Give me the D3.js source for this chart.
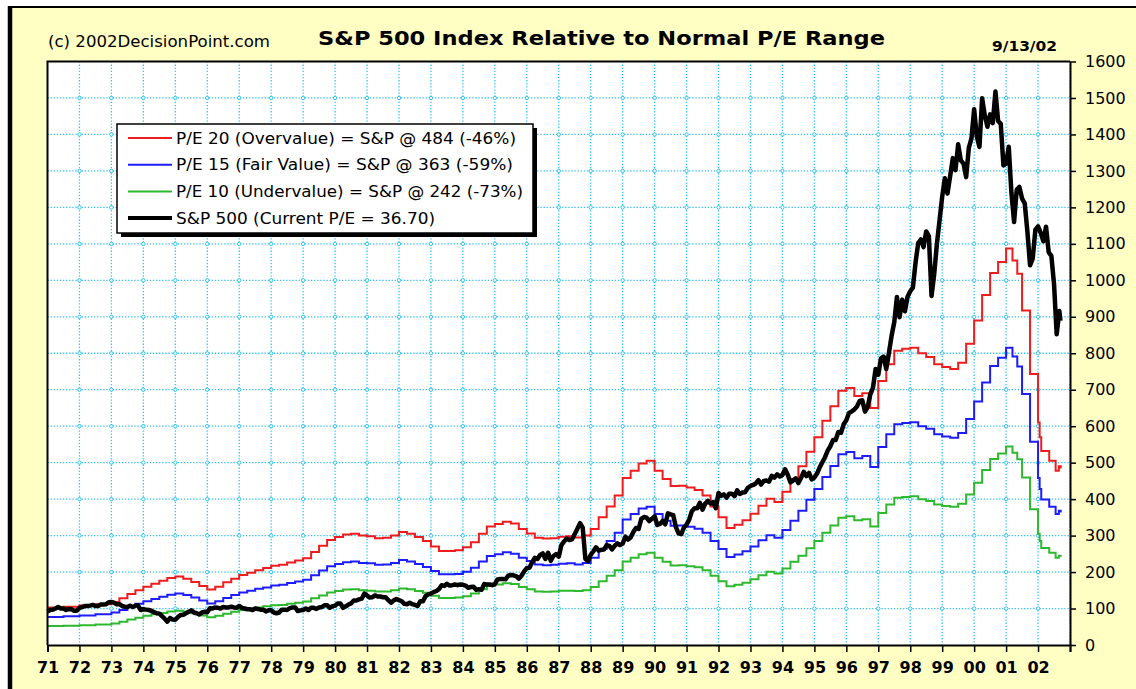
<!DOCTYPE html>
<html>
<head>
<meta charset="utf-8">
<script src="https://cdn.jsdelivr.net/npm/d3@7"></script>
<style>
  html, body { margin: 0; padding: 0; background: #fff; }
  svg { display: block; }
  text { font-family: "DejaVu Sans", Verdana, sans-serif; }
</style>
</head>
<body>
<svg id="chart" width="1136" height="689"></svg>
<script>
// ---- data ----
// P/E band dates (decimal years) - lines are stepped
const peDates = [
    1971.0, 1971.5, 1972.0, 1972.5, 1973.0, 1973.25, 1973.5, 1973.75,
    1974.0, 1974.25, 1974.5, 1974.75, 1975.0, 1975.25, 1975.5, 1975.75,
    1976.0, 1976.25, 1976.5, 1976.75, 1977.0, 1977.25, 1977.5, 1977.75,
    1978.0, 1978.25, 1978.5, 1978.75, 1979.0, 1979.25, 1979.5, 1979.75,
    1980.0, 1980.25, 1980.5, 1980.75, 1981.0, 1981.25, 1981.5, 1981.75,
    1982.0, 1982.25, 1982.5, 1982.75, 1983.0, 1983.25, 1983.5, 1983.75,
    1984.0, 1984.25, 1984.5, 1984.75, 1985.0, 1985.25, 1985.5, 1985.75,
    1986.0, 1986.25, 1986.5, 1986.75, 1987.0, 1987.25, 1987.5, 1987.75,
    1988.0, 1988.25, 1988.5, 1988.75, 1989.0, 1989.25, 1989.5, 1989.75,
    1990.0, 1990.25, 1990.5, 1990.75, 1991.0, 1991.25, 1991.5, 1991.75,
    1992.0, 1992.25, 1992.5, 1992.75, 1993.0, 1993.25, 1993.5, 1993.75,
    1994.0, 1994.25, 1994.5, 1994.75, 1995.0, 1995.25, 1995.5, 1995.75,
    1996.0, 1996.25, 1996.5, 1996.75, 1997.0, 1997.25, 1997.5, 1997.75,
    1998.0, 1998.25, 1998.5, 1998.75, 1999.0, 1999.25, 1999.5, 1999.75,
    2000.0, 2000.25, 2000.5, 2000.75, 2001.0, 2001.2, 2001.35, 2001.5,
    2001.75, 2002.0, 2002.05, 2002.1, 2002.35, 2002.55, 2002.65, 2002.71
];
const pe20 = [
    103, 105, 108, 112, 118, 128, 140, 150, 160, 168, 176, 184, 188, 182, 173, 162,
    152, 160, 172, 182, 192, 198, 205, 211, 217, 220, 226, 232, 238, 255, 272, 288,
    296, 303, 305, 300, 298, 293, 294, 300, 310, 305, 296, 285, 270, 258, 258, 260,
    268, 282, 305, 325, 332, 338, 333, 318, 306, 294, 292, 293, 297, 298, 295, 300,
    318, 350, 380, 410, 458, 478, 498, 505, 478, 455, 436, 437, 432, 425, 410, 380,
    350, 321, 330, 342, 360, 382, 401, 392, 420, 455, 490, 530, 570, 615, 655, 697,
    705, 683, 690, 650, 724, 770, 807, 812, 815, 800, 790, 770, 762, 757, 774, 826,
    890, 960, 1020, 1050, 1087, 1054, 1018, 917, 743, 610, 570, 532, 505, 478, 490, 484
];
const pe15 = [
    77, 79, 81, 84, 89, 96, 105, 113, 120, 126, 132, 138, 141, 137, 130, 122,
    114, 120, 129, 137, 144, 149, 154, 158, 163, 165, 170, 174, 179, 191, 204, 216,
    222, 227, 229, 225, 224, 220, 221, 225, 233, 229, 222, 214, 203, 194, 194, 195,
    201, 212, 229, 244, 249, 254, 250, 239, 230, 221, 219, 220, 223, 224, 221, 225,
    239, 263, 285, 308, 344, 359, 374, 379, 359, 341, 327, 328, 324, 319, 308, 285,
    263, 241, 248, 257, 270, 287, 301, 294, 315, 341, 368, 398, 428, 461, 491, 523,
    529, 512, 518, 488, 543, 578, 605, 609, 611, 600, 593, 578, 572, 568, 581, 620,
    668, 720, 765, 788, 815, 791, 764, 688, 557, 458, 428, 399, 379, 359, 368, 363
];
const pe10 = [
    52, 53, 54, 56, 59, 64, 70, 75, 80, 84, 88, 92, 94, 91, 87, 81,
    76, 80, 86, 91, 96, 99, 103, 106, 109, 110, 113, 116, 119, 128, 136, 144,
    148, 152, 153, 150, 149, 147, 147, 150, 155, 153, 148, 143, 135, 129, 129, 130,
    134, 141, 153, 163, 166, 169, 167, 159, 153, 147, 146, 147, 149, 149, 148, 150,
    159, 175, 190, 205, 229, 239, 249, 253, 239, 228, 218, 219, 216, 213, 205, 190,
    175, 161, 165, 171, 180, 191, 201, 196, 210, 228, 245, 265, 285, 308, 328, 349,
    353, 342, 345, 325, 362, 385, 404, 406, 408, 400, 395, 385, 381, 379, 387, 413,
    445, 480, 510, 525, 544, 527, 509, 459, 372, 305, 285, 266, 253, 239, 245, 242
];

// S&P 500 month-end readings, Dec 1970 .. Aug 2002
const spxStart = 1971;
const spxMonthly = [
    92,
    96, 97, 100, 104, 100, 100, 96, 99, 98, 94, 94, 102,
    104, 107, 107, 108, 110, 107, 107, 111, 111, 112, 117, 118,
    116, 112, 112, 107, 105, 104, 108, 104, 108, 108, 96, 98,
    97, 96, 94, 90, 87, 86, 79, 72, 64, 74, 70, 69,
    77, 82, 83, 87, 91, 95, 89, 87, 84, 89, 91, 90,
    101, 100, 103, 102, 100, 104, 103, 103, 105, 103, 102, 107,
    102, 100, 98, 98, 96, 100, 99, 97, 97, 92, 95, 95,
    89, 87, 89, 97, 97, 96, 101, 103, 103, 93, 95, 96,
    100, 96, 102, 102, 99, 103, 104, 109, 109, 102, 106, 108,
    114, 114, 102, 106, 111, 114, 122, 122, 125, 127, 141, 136,
    130, 131, 136, 133, 133, 131, 131, 123, 116, 122, 126, 123,
    120, 113, 112, 116, 112, 110, 107, 120, 120, 134, 139, 141,
    145, 148, 153, 164, 162, 168, 163, 164, 166, 164, 166, 165,
    163, 157, 159, 160, 151, 153, 151, 167, 166, 166, 164, 167,
    180, 181, 181, 180, 190, 192, 191, 189, 182, 190, 202, 211,
    212, 227, 239, 236, 247, 251, 236, 253, 231, 244, 249, 242,
    274, 284, 292, 288, 290, 304, 319, 334, 322, 236, 230, 247,
    257, 268, 259, 261, 262, 274, 272, 262, 272, 279, 274, 278,
    297, 289, 295, 310, 321, 318, 346, 351, 349, 340, 346, 353,
    329, 332, 340, 331, 361, 358, 356, 323, 306, 304, 322, 330,
    344, 367, 375, 375, 390, 371, 388, 395, 388, 392, 375, 417,
    409, 413, 404, 415, 415, 408, 424, 414, 418, 419, 431, 436,
    439, 443, 452, 440, 450, 451, 448, 464, 459, 468, 462, 466,
    482, 467, 446, 451, 457, 444, 458, 475, 463, 472, 454, 459,
    470, 487, 501, 515, 533, 545, 562, 562, 584, 582, 605, 616,
    636, 640, 646, 654, 669, 671, 640, 652, 687, 705, 757, 741,
    786, 791, 757, 801, 848, 885, 954, 899, 947, 915, 955, 970,
    980, 1049, 1102, 1112, 1091, 1134, 1121, 957, 1017, 1099, 1164, 1229,
    1280, 1238, 1286, 1335, 1302, 1373, 1329, 1320, 1283, 1363, 1389, 1469,
    1394, 1366, 1499, 1452, 1421, 1455, 1431, 1518, 1437, 1429, 1315, 1320,
    1366, 1240, 1160, 1249, 1256, 1224, 1211, 1134, 1041, 1060, 1139, 1148,
    1130, 1107, 1147, 1077, 1067, 990, 852, 916
];
const spxEndDate = 2002.70;
const spxEndValue = 889;

const yearTicks = d3.range(1971, 2004);
const valueTicks = d3.range(0, 1700, 100);

const legendItems = [
    { label: "P/E 20 (Overvalue) = S&P @ 484 (-46%)", color: "#ee1c1c", width: 2, len: 340 },
    { label: "P/E 15 (Fair Value) = S&P @ 363 (-59%)", color: "#1c1cff", width: 2, len: 337 },
    { label: "P/E 10 (Undervalue) = S&P @ 242 (-73%)", color: "#2eb82e", width: 2, len: 347 },
    { label: "S&P 500 (Current P/E = 36.70)", color: "#000", width: 4, len: 259 }
];

// ---- drawing ----
const svg = d3.select("#chart");
const gridColor = "#2ec4f4";

// page frame
svg.append("rect").attr("x", 0).attr("y", 0).attr("width", 1136).attr("height", 689).attr("fill", "#fff");
svg.append("rect").attr("x", 10).attr("y", 7).attr("width", 1126).attr("height", 682).attr("fill", "#ffffc4");
svg.append("line").attr("x1", 8).attr("x2", 1136).attr("y1", 7).attr("y2", 7)
    .attr("stroke", "#000").attr("stroke-width", 2);
svg.append("line").attr("x1", 10).attr("x2", 10).attr("y1", 6).attr("y2", 689)
    .attr("stroke", "#000").attr("stroke-width", 4.5);

const x = d3.scaleLinear().domain([1971, 2003]).range([47.5, 1070]);
const y = d3.scaleLinear().domain([0, 1600]).range([645, 61.5]);

// plot background
svg.append("rect")
    .attr("x", x(1971)).attr("y", y(1600))
    .attr("width", x(2003) - x(1971)).attr("height", y(0) - y(1600))
    .attr("fill", "#fff");

// grid
const grid = svg.append("g");
grid.selectAll("line.v")
    .data(yearTicks.filter((d) => d > 1971))
    .join("line")
    .attr("x1", (d) => x(d)).attr("x2", (d) => x(d))
    .attr("y1", y(1600)).attr("y2", y(0))
    .attr("stroke", gridColor).attr("stroke-width", 1.3)
    .attr("stroke-dasharray", "1.3,1.8");
grid.selectAll("line.h")
    .data(valueTicks.filter((d) => d > 0 && d < 1600))
    .join("line")
    .attr("x1", x(1971)).attr("x2", x(2003))
    .attr("y1", (d) => y(d)).attr("y2", (d) => y(d))
    .attr("stroke", gridColor).attr("stroke-width", 1.3)
    .attr("stroke-dasharray", "1.3,1.8");
const crossings = [];
yearTicks.filter((d) => d > 1971 && d < 2003).forEach((yr) => {
    valueTicks.filter((v) => v > 0 && v < 1600).forEach((v) => crossings.push([yr, v]));
});
grid.selectAll("circle")
    .data(crossings)
    .join("circle")
    .attr("cx", (d) => x(d[0])).attr("cy", (d) => y(d[1]))
    .attr("r", 1.7).attr("fill", "#fff")
    .attr("stroke", gridColor).attr("stroke-width", 1);

// P/E bands
const stepLine = d3.line()
    .x((d) => x(d[0]))
    .y((d) => y(d[1]))
    .curve(d3.curveStepAfter);

const bands = [
    { values: pe10, color: legendItems[2].color },
    { values: pe15, color: legendItems[1].color },
    { values: pe20, color: legendItems[0].color }
];
bands.forEach((b) => {
    svg.append("path")
        .datum(peDates.map((d, i) => [d, b.values[i]]))
        .attr("d", stepLine)
        .attr("fill", "none")
        .attr("stroke", b.color)
        .attr("stroke-width", 2);
});

// S&P 500
const spxPoints = spxMonthly.map((v, i) => [spxStart + i / 12, v]);
spxPoints.push([spxEndDate, spxEndValue]);
svg.append("path")
    .datum(spxPoints)
    .attr("d", d3.line().x((d) => x(d[0])).y((d) => y(d[1])))
    .attr("fill", "none")
    .attr("stroke", "#000")
    .attr("stroke-width", 4.5)
    .attr("stroke-linejoin", "round");

// plot border top / left
svg.append("path")
    .attr("d", `M${x(1971)},${y(0)}V${y(1600)}H${x(2003)}`)
    .attr("fill", "none").attr("stroke", "#000").attr("stroke-width", 2);

// axes
const xAxis = d3.axisBottom(x)
    .tickValues(yearTicks)
    .tickSize(7)
    .tickPadding(10)
    .tickFormat((d) => (d === 2003 ? "" : String(d).slice(2)));
const gx = svg.append("g").attr("transform", `translate(0,${y(0)})`).call(xAxis);
gx.select(".domain").attr("stroke-width", 2);
gx.selectAll(".tick line").attr("stroke-width", 1.5);
gx.selectAll("text")
    .attr("font-family", "'DejaVu Sans', sans-serif")
    .attr("font-weight", "bold")
    .attr("font-size", 16)
    .attr("fill", "#000");

const yAxis = d3.axisRight(y)
    .tickValues(valueTicks)
    .tickSize(6)
    .tickSizeOuter(0)
    .tickPadding(9)
    .tickFormat(d3.format("d"));
const gy = svg.append("g").attr("transform", `translate(${x(2003)},0)`).call(yAxis);
gy.select(".domain").attr("stroke-width", 2);
gy.selectAll(".tick line").attr("stroke-width", 1.5);
gy.selectAll("text")
    .attr("font-family", "'DejaVu Sans', sans-serif")
    .attr("font-size", 16)
    .attr("fill", "#000");

// titles
svg.append("text")
    .attr("x", 48).attr("y", 47)
    .attr("font-size", 16)
    .attr("textLength", 222).attr("lengthAdjust", "spacingAndGlyphs")
    .text("(c) 2002DecisionPoint.com");
svg.append("text")
    .attr("x", 318).attr("y", 45)
    .attr("font-size", 19).attr("font-weight", "bold")
    .attr("textLength", 567).attr("lengthAdjust", "spacingAndGlyphs")
    .text("S&P 500 Index Relative to Normal P/E Range");
svg.append("text")
    .attr("x", 992).attr("y", 51)
    .attr("font-size", 14).attr("font-weight", "bold")
    .attr("textLength", 65).attr("lengthAdjust", "spacingAndGlyphs")
    .text("9/13/02");

// legend
const legend = svg.append("g").attr("transform", "translate(117,124)");
legend.append("rect").attr("x", 4).attr("y", 4).attr("width", 416).attr("height", 109).attr("fill", "#000");
legend.append("rect").attr("x", 0).attr("y", 0).attr("width", 416).attr("height", 109)
    .attr("fill", "#fff").attr("stroke", "#000").attr("stroke-width", 1.5);
const rows = legend.selectAll("g.row")
    .data(legendItems)
    .join("g")
    .attr("transform", (d, i) => `translate(0,${14 + i * 26.7})`);
rows.append("line")
    .attr("x1", 11).attr("x2", 55)
    .attr("stroke", (d) => d.color)
    .attr("stroke-width", (d) => d.width);
rows.append("text")
    .attr("x", 59).attr("y", 5.5)
    .attr("font-size", 15)
    .attr("textLength", (d) => d.len).attr("lengthAdjust", "spacingAndGlyphs")
    .text((d) => d.label);
</script>
</body>
</html>
